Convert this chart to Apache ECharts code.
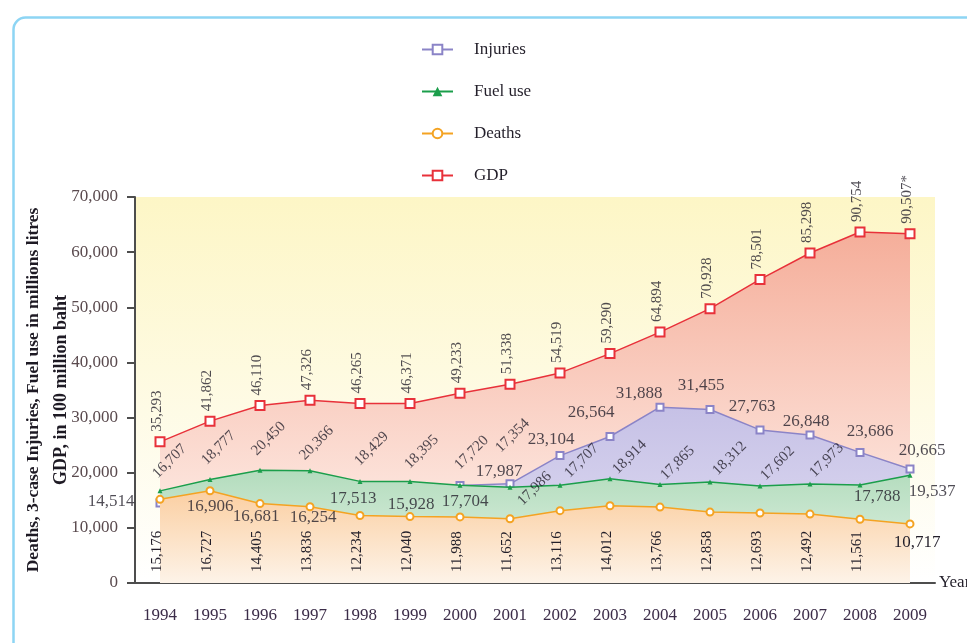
<!DOCTYPE html>
<html>
<head>
<meta charset="utf-8">
<script src="https://cdn.jsdelivr.net/npm/echarts@6/dist/echarts.min.js"></script>
<style>
html, body { margin: 0; padding: 0; background: #fff; }
#main { width: 967px; height: 643px; }
</style>
</head>
<body>
<div id="main"></div>
<script>
// data
var years = ['1994', '1995', '1996', '1997', '1998', '1999', '2000', '2001',
    '2002', '2003', '2004', '2005', '2006', '2007', '2008', '2009'];
var injuries = [14514, 16906, 16681, 16254, 17513, 15928, 17704, 17987,
    23104, 26564, 31888, 31455, 27763, 26848, 23686, 20665];
var fuelUse = [16707, 18777, 20450, 20366, 18429, 18395, 17720, 17354,
    17707, 18914, 17865, 18312, 17602, 17973, 17788, 19537];
var deaths = [15176, 16727, 14405, 13836, 12234, 12040, 11988, 11652,
    13116, 14012, 13766, 12858, 12693, 12492, 11561, 10717];
// GDP is drawn at these heights but labelled with the printed figures
var gdpPlotted = [25600, 29350, 32200, 33150, 32550, 32550, 34400, 36050,
    38100, 41600, 45500, 49750, 55050, 59850, 63650, 63350];
var gdpLabels = ['35,293', '41,862', '46,110', '47,326', '46,265', '46,371', '49,233', '51,338',
    '54,519', '59,290', '64,894', '70,928', '78,501', '85,298', '90,754', '90,507*'];
// one stray fuel label printed next to 2001
var fuelExtraYear = '2001';
var fuelExtraLabel = '17,986';

var serif = 'Liberation Serif';
var labelFont = { fontFamily: serif, fontSize: 15, color: '#231f2a', textBorderWidth: 0 };
var flatFont = 17; // horizontal text is wider in the scan

function fmt(n) {
    return String(n).replace(/\B(?=(\d{3})+(?!\d))/g, ',');
}
// label offsets are applied in the rotated frame, so turn a screen offset into it
function rotOffset(dx, dy, deg) {
    var t = deg * Math.PI / 180, c = Math.cos(t), s = Math.sin(t);
    return [dx * c - dy * s, dx * s + dy * c];
}
function grad(top, bottom) {
    return new echarts.graphic.LinearGradient(0, 0, 0, 1, [
        { offset: 0, color: top }, { offset: 1, color: bottom }
    ]);
}
function withFont(o) {
    return Object.assign({}, labelFont, o);
}

// label placement (screen offsets from the point)
var injOff = [[-49, -1], [0, 17], [-4, 26], [3, 24], [-7, 12], [1, 9], [5, 16], [-11, -12],
    [-9, -16], [-19, -24], [-21, -14], [-9, -24], [-8, -23], [-4, -13], [10, -21], [12, -19]];
var fuelOff = [[-5, -15], [-6, -17], [-6, -17], [-8, -13], [-3, -18], [-3, -15], [-3, -18], [-12, -37],
    [7, -10], [5, -7], [3, -7], [5, -9], [3, -8], [2, -9], [17, 12], [22, 16]];

var gdpLabelData = gdpPlotted.map(function (v, i) {
    return {
        value: [years[i], v],
        label: withFont({
            show: true, position: 'inside', rotate: 90, align: 'left', verticalAlign: 'middle',
            offset: rotOffset(-3, -10, 90), formatter: gdpLabels[i]
        })
    };
});
var injLabelData = injuries.map(function (v, i) {
    return {
        value: [years[i], v],
        label: withFont({
            show: true, position: 'inside', align: 'center', verticalAlign: 'middle',
            fontSize: flatFont, offset: injOff[i], formatter: fmt(v)
        })
    };
});
var fuelLabelData = fuelUse.map(function (v, i) {
    var flat = i >= 14;
    return {
        value: [years[i], v],
        label: withFont(flat ? {
            show: true, position: 'inside', align: 'center', verticalAlign: 'middle',
            fontSize: flatFont, offset: fuelOff[i], formatter: fmt(v)
        } : {
            show: true, position: 'inside', rotate: 45, align: 'left', verticalAlign: 'middle',
            offset: rotOffset(fuelOff[i][0], fuelOff[i][1], 45), formatter: fmt(v)
        })
    };
});
fuelLabelData.push({
    value: [fuelExtraYear, fuelUse[years.indexOf(fuelExtraYear)]],
    label: withFont({
        show: true, position: 'inside', rotate: 45, align: 'left', verticalAlign: 'middle',
        offset: rotOffset(10, 16, 45), formatter: fuelExtraLabel
    })
});
var deathLabelData = deaths.map(function (v, i) {
    var last = i === deaths.length - 1;
    return {
        value: v,
        label: withFont(last ? {
            show: true, position: 'insideTop', distance: 10, align: 'center', verticalAlign: 'top',
            fontSize: flatFont, offset: [7, 0], formatter: fmt(v)
        } : {
            show: true, position: 'insideBottom', distance: 11, rotate: 90, align: 'left',
            verticalAlign: 'middle', offset: rotOffset(-3, 0, 90), formatter: fmt(v)
        })
    };
});

var chartDom = document.getElementById('main');
var myChart = echarts.init(chartDom);

var labelSeries = function (name, data) {
    return {
        name: name, type: 'scatter', data: data, z: 10, silent: true,
        symbolSize: 1, itemStyle: { color: 'rgba(0,0,0,0)' }
    };
};

var option = {
    animation: false,
    backgroundColor: '#fff',
    graphic: [{
        type: 'rect', left: 11, top: 15, z: -10,
        shape: { width: 1100, height: 800, r: 12 },
        style: { fill: 'none', stroke: '#8dd5f4', lineWidth: 2.5 }
    }],
    legend: {
        orient: 'vertical',
        left: 416,
        top: 36,
        itemWidth: 31,
        itemHeight: 12,
        itemGap: 25,
        data: ['Injuries', 'Fuel use', 'Deaths', 'GDP'],
        textStyle: { fontFamily: serif, fontSize: flatFont, color: '#231f2a', padding: [0, 0, 0, 16] }
    },
    grid: {
        left: 135, right: 32, top: 197, bottom: 60,
        outerBoundsMode: 'none',
        show: true, borderWidth: 0,
        backgroundColor: grad('#fdf6c6', '#ffffff')
    },
    xAxis: {
        type: 'category',
        data: years,
        boundaryGap: true,
        name: 'Year',
        nameLocation: 'end',
        nameGap: 4,
        nameTextStyle: { fontFamily: serif, fontSize: flatFont, color: '#231f2a' },
        axisLine: { lineStyle: { color: '#4d4d4d', width: 2 } },
        axisTick: { length: 8, lineStyle: { color: '#4d4d4d', width: 2 } },
        axisLabel: { margin: 24, fontFamily: serif, fontSize: flatFont, color: '#3b2c48' }
    },
    yAxis: {
        type: 'value',
        min: 0,
        max: 70000,
        interval: 10000,
        name: '{a|Deaths, 3-case Injuries, Fuel use in millions litres}\n{b|GDP, in 100 million baht}',
        nameLocation: 'middle',
        nameGap: 60,
        nameRotate: 90,
        nameMoveOverlap: false,
        nameTextStyle: {
            lineHeight: 28,
            rich: {
                a: { fontFamily: serif, fontSize: 17.5, fontWeight: 'bold', color: '#1e1a24', lineHeight: 28 },
                b: { fontFamily: serif, fontSize: 18, fontWeight: 'bold', color: '#1e1a24', lineHeight: 28 }
            }
        },
        axisLine: { show: true, lineStyle: { color: '#4d4d4d', width: 2 } },
        axisTick: { show: true, length: 8, lineStyle: { color: '#4d4d4d', width: 2 } },
        axisLabel: { margin: 17, fontFamily: serif, fontSize: flatFont, color: '#5a4a4e', formatter: fmt },
        splitLine: { show: false }
    },
    series: [
        {
            name: 'GDP', type: 'line', data: gdpPlotted, z: 2,
            symbol: 'emptyRect', symbolSize: 9,
            lineStyle: { color: '#e8313a', width: 1.5 },
            itemStyle: { color: '#e8313a', borderWidth: 2 },
            areaStyle: { color: grad('#f5ae9a', '#fff6f2'), opacity: 1 }
        },
        {
            name: 'Injuries', type: 'line', data: injuries, z: 3,
            symbol: 'emptyRect', symbolSize: 7,
            lineStyle: { color: '#8b84c7', width: 1.5 },
            itemStyle: { color: '#8b84c7', borderWidth: 1.5 },
            areaStyle: { color: grad('#c6c1e6', '#e2dff3'), opacity: 1 }
        },
        {
            name: 'Fuel use', type: 'line', data: fuelUse, z: 4,
            symbol: 'triangle', symbolSize: 5,
            lineStyle: { color: '#1b9e4b', width: 1.5 },
            itemStyle: { color: '#1b9e4b' },
            areaStyle: { color: grad('#b3dcbd', '#e6f4e8'), opacity: 1 }
        },
        {
            name: 'Deaths', type: 'line', data: deaths, z: 5,
            symbol: 'emptyCircle', symbolSize: 7,
            lineStyle: { color: '#f4a322', width: 1.5 },
            itemStyle: { color: '#f4a322', borderWidth: 1.5 },
            areaStyle: { color: grad('#fbcfa2', '#fdf3e8'), opacity: 1 }
        },
        labelSeries('gdpLabels', gdpLabelData),
        labelSeries('injLabels', injLabelData),
        labelSeries('fuelLabels', fuelLabelData),
        {
            name: 'deathLabels', type: 'bar', data: deathLabelData, z: 10, silent: true,
            barWidth: 1, itemStyle: { color: 'rgba(0,0,0,0)' }
        }
    ]
};
myChart.setOption(option);
</script>
</body>
</html>
